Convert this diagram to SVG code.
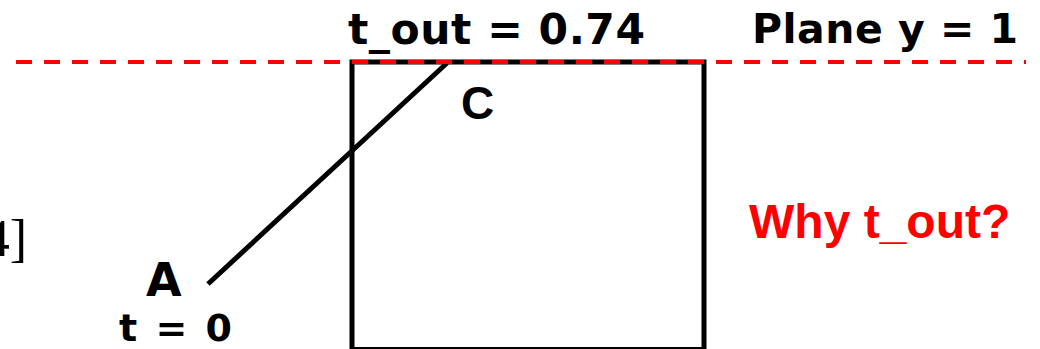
<svg xmlns="http://www.w3.org/2000/svg" width="1040" height="349" viewBox="0 0 1040 349">
  <style>
    .dv { font-family: "DejaVu Sans", Verdana, sans-serif; font-weight: bold; fill: #000; }
    .ar { font-family: "Liberation Sans", Arial, sans-serif; font-weight: bold; fill: #000; }
    .edge { stroke: #000; stroke-width: 5; fill: none; }
  </style>
  <rect x="0" y="0" width="1040" height="349" fill="#fff"/>
  <g id="box">
    <rect x="352" y="62" width="352" height="287.5" fill="none" stroke="#000" stroke-width="5"/>
  </g>
  <g id="connectors">
    <line class="edge" x1="208" y1="284" x2="447" y2="63"/>
    <line x1="16" y1="62" x2="1026" y2="62" stroke="#ff0000" stroke-width="4" stroke-dasharray="16 12"/>
  </g>
  <g id="label-tout">
    <text class="dv" x="348" y="44" font-size="42.5" textLength="297" lengthAdjust="spacing">t_out = 0.74</text>
  </g>
  <g id="label-plane">
    <text class="dv" x="752" y="43" font-size="41" textLength="266" lengthAdjust="spacing">Plane y = 1</text>
  </g>
  <g id="point-C">
    <text class="ar" x="461" y="119" font-size="46">C</text>
  </g>
  <g id="point-A">
    <text class="dv" x="146" y="296" font-size="46">A</text>
    <text class="dv" x="119" y="341" font-size="38" textLength="113" lengthAdjust="spacing">t = 0</text>
  </g>
  <g id="question">
    <text class="ar" x="749" y="238" font-size="48" fill="#ff0000" style="fill:#ff0000">Why t_out?</text>
  </g>
  <g id="cut-text">
    <text x="27" y="256" font-family="'Liberation Serif', 'Times New Roman', serif" font-size="52" text-anchor="end" fill="#000">4]</text>
  </g>
</svg>
